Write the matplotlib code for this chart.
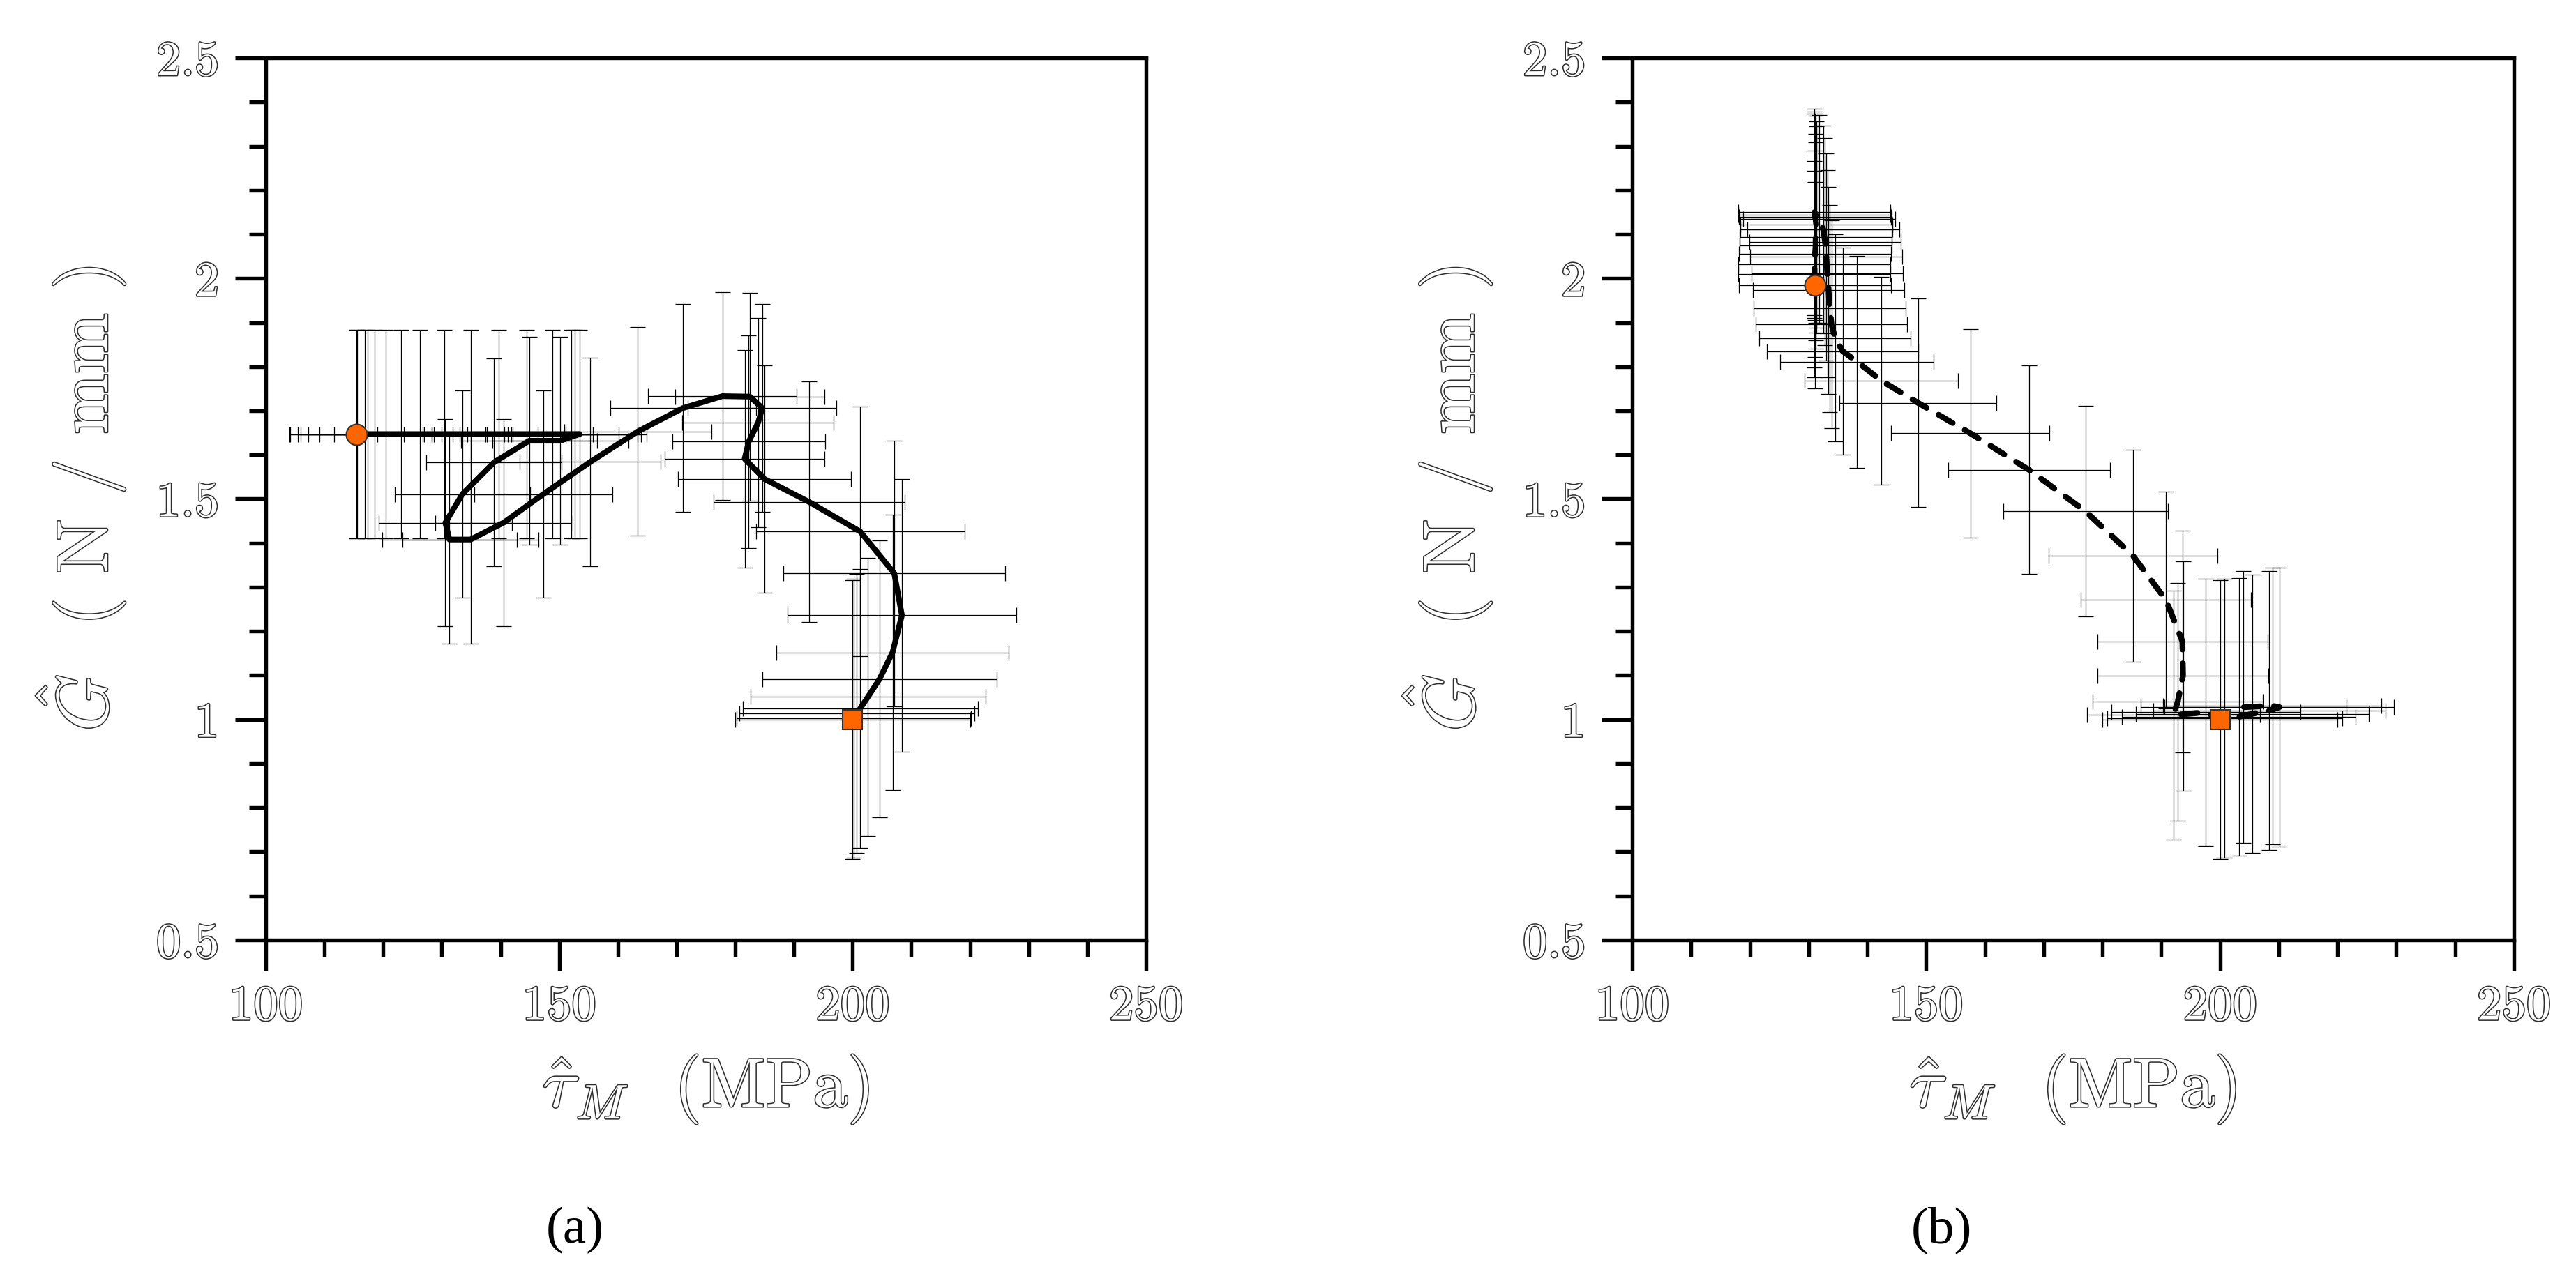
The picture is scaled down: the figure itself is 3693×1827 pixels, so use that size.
import matplotlib
matplotlib.use('Agg')
import matplotlib.pyplot as plt
import matplotlib.patheffects as pe
from matplotlib.ticker import MultipleLocator, FuncFormatter

plt.rcParams['mathtext.fontset'] = 'cm'
plt.rcParams['font.family'] = ['cmr10', 'DejaVu Serif']

# ---- panel (a): iteration path with error crosses ----
a_tau = [115.4, 115.6, 116.9, 117.3, 118.6, 120.5, 123.0, 126.3, 130.4, 134.9,
         139.7, 144.4, 148.8, 152.0, 152.6, 153.5,
         150.2, 144.9, 138.9, 133.5, 130.6, 131.3, 134.9, 140.5, 147.3, 155.3,
         163.4, 171.1, 177.8, 182.5, 184.6, 183.9, 182.3, 181.6, 185.0, 192.6,
         201.3, 207.1, 208.4, 206.8, 204.6, 202.6, 201.3, 200.7, 200.2, 200.0]
a_G = [1.647] * 16 + \
      [1.632, 1.632, 1.583, 1.511, 1.446, 1.408, 1.408, 1.446, 1.511, 1.584,
       1.653, 1.706, 1.733, 1.732, 1.706, 1.673, 1.630, 1.591, 1.545, 1.493,
       1.426, 1.331, 1.236, 1.152, 1.092, 1.051, 1.025, 1.014, 1.003, 1.000]
a_tau_err = [11.4] * 16 + \
            [11.6, 11.6, 11.55, 11.5, 11.4, 11.5, 11.55, 11.6, 11.75, 12.0,
             12.5, 12.4, 12.7, 12.7, 12.65, 12.9, 13.0, 13.6, 14.7, 16.3,
             17.8, 18.9, 19.5, 19.8, 20.0, 20.05, 20.0, 20.0, 20.0, 20.0]
a_G_err = [0.236] * 16 + \
          [0.2355, 0.2355, 0.2355, 0.2346, 0.2352, 0.236, 0.236, 0.2346, 0.235, 0.2363,
           0.2366, 0.236, 0.2355, 0.2355, 0.236, 0.2376, 0.2407, 0.247, 0.2576, 0.2728,
           0.283, 0.3013, 0.3087, 0.312, 0.314, 0.3152, 0.3165, 0.3165, 0.3157, 0.316]

# ---- panel (b) ----
b_tau = [131.1, 131.0, 131.0, 131.1, 131.2, 131.2, 131.3, 131.3, 131.2, 131.1, 131.0, 131.0,
         131.8, 132.5, 132.8, 133.0, 133.2, 133.4, 133.6, 133.9, 134.5, 135.8,
         138.25, 142.4, 148.6, 157.5, 167.5, 177.1, 185.2, 190.8, 193.6, 193.7,
         192.8, 192.1, 197.6, 200.0, 200.8, 203.2, 205.5, 208.4, 210.1, 208.9, 204.0]
b_G = [1.985, 2.010, 2.032, 2.055, 2.074, 2.094, 2.111, 2.122, 2.134, 2.139, 2.145, 2.150,
       2.135, 2.111, 2.083, 2.049, 2.011, 1.973, 1.932, 1.896, 1.865, 1.835,
       1.811, 1.768, 1.718, 1.649, 1.566, 1.472, 1.371, 1.271, 1.177, 1.099,
       1.040, 1.010, 1.0165, 1.000, 1.003, 1.006, 1.013, 1.020, 1.028, 1.031, 1.028]
b_tau_err = [12.95] * 12 + \
            [12.9] * 10 + \
            [13.05, 13.05, 13.3, 13.5, 13.8, 14.0, 14.4, 14.5, 14.5, 14.5,
             14.5, 14.7, 16.1, 20.0, 20.0, 19.9, 19.8, 19.8, 19.5, 18.6, 17.5]
b_G_err = [0.234] * 12 + \
          [0.235] * 10 + \
          [0.240, 0.236, 0.236, 0.236, 0.236, 0.239, 0.2406, 0.246, 0.251, 0.26,
           0.27, 0.282, 0.303, 0.316, 0.316, 0.315, 0.316, 0.316, 0.316, 0.314, 0.309]

a_start = (115.4, 1.647)
b_start = (131.1, 1.985)
target = (200.0, 1.0)

# hollow (outlined) lettering like the original
outline = [pe.withStroke(linewidth=0.75, foreground='#2e2e2e')]


def style_axes(ax):
    ax.set_xlim(100, 250)
    ax.set_ylim(0.5, 2.5)
    ax.xaxis.set_major_locator(MultipleLocator(50))
    ax.xaxis.set_minor_locator(MultipleLocator(10))
    ax.yaxis.set_major_locator(MultipleLocator(0.5))
    ax.yaxis.set_minor_locator(MultipleLocator(0.1))
    ax.xaxis.set_major_formatter(FuncFormatter(lambda v, p: '%g' % v))
    ax.yaxis.set_major_formatter(FuncFormatter(lambda v, p: '%g' % v))
    ax.tick_params(which='both', direction='out', width=1.3,
                   top=False, right=False, labelcolor='white', labelsize=17)
    ax.tick_params(which='major', length=10.5)
    ax.tick_params(which='minor', length=5.7)
    ax.tick_params(axis='x', which='major', pad=5)
    ax.tick_params(axis='y', which='major', pad=5.5)
    for sp in ax.spines.values():
        sp.set_linewidth(1.3)
    ax.set_xlabel(r'$\hat{\tau}_M$  (MPa)', fontsize=24, color='white',
                  labelpad=8, path_effects=outline)
    ax.set_ylabel(r'$\hat{G}$  ( N / mm )', fontsize=25, color='white',
                  labelpad=10, path_effects=outline)


fig = plt.figure(figsize=(12.31, 6.0933), dpi=300)
ax1 = fig.add_axes([0.10317, 0.26204, 0.34173, 0.69201])
ax2 = fig.add_axes([0.63363, 0.26204, 0.34227, 0.69201])

# (a)
ax1.errorbar(a_tau, a_G, xerr=a_tau_err, yerr=a_G_err, fmt='none', ecolor='black',
             elinewidth=0.3, capsize=2.65, capthick=0.3, zorder=2)
ax1.plot(a_tau, a_G, color='black', lw=1.95, solid_joinstyle='round',
         solid_capstyle='round', zorder=3)
ax1.plot(*a_start, 'o', ms=7.2, mfc='#ff6600', mec='#333333', mew=0.5, zorder=4)
ax1.plot(*target, 's', ms=6.8, mfc='#ff6600', mec='#333333', mew=0.5, zorder=4)

# (b)
ax2.errorbar(b_tau, b_G, xerr=b_tau_err, yerr=b_G_err, fmt='none', ecolor='black',
             elinewidth=0.3, capsize=2.65, capthick=0.3, zorder=2)
ax2.plot(b_tau, b_G, color='black', lw=2.0, linestyle=(0, (2.8, 2.4)),
         dash_capstyle='round', dash_joinstyle='round', zorder=3)
ax2.plot(*b_start, 'o', ms=7.2, mfc='#ff6600', mec='#333333', mew=0.5, zorder=4)
ax2.plot(*target, 's', ms=6.8, mfc='#ff6600', mec='#333333', mew=0.5, zorder=4)

for ax in (ax1, ax2):
    style_axes(ax)

fig.canvas.draw()
for ax in (ax1, ax2):
    for lbl in ax.get_xticklabels() + ax.get_yticklabels():
        lbl.set_path_effects(outline)

fig.text(0.2231, 0.035, '(a)', family='Liberation Serif', fontsize=18,
         ha='center', va='center')
fig.text(0.7536, 0.035, '(b)', family='Liberation Serif', fontsize=18,
         ha='center', va='center')

fig.savefig('out.png', dpi=300)
